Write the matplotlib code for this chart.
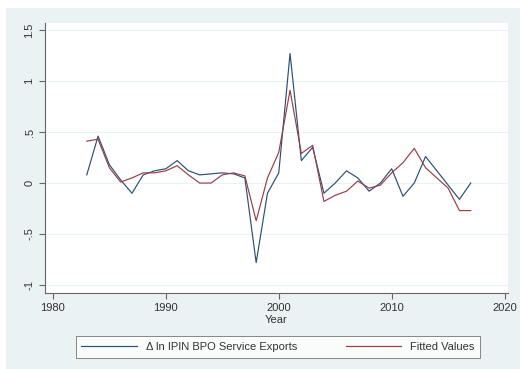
import matplotlib.pyplot as plt
from matplotlib.patches import Rectangle
from matplotlib.lines import Line2D

plt.rcParams['font.family'] = ['Liberation Sans', 'DejaVu Sans']

years = list(range(1983, 2018))
actual = [0.08, 0.46, 0.18, 0.03, -0.10, 0.08, 0.12, 0.14, 0.22, 0.12,
          0.08, 0.09, 0.10, 0.09, 0.05, -0.78, -0.10, 0.10, 1.27, 0.22,
          0.35, -0.10, 0.00, 0.12, 0.05, -0.08, 0.00, 0.14, -0.13, 0.00,
          0.26, 0.12, -0.02, -0.16, 0.00]
fitted = [0.41, 0.43, 0.15, 0.01, 0.05, 0.10, 0.10, 0.12, 0.17, 0.08,
          0.00, 0.00, 0.08, 0.10, 0.07, -0.37, 0.05, 0.30, 0.91, 0.29,
          0.37, -0.18, -0.12, -0.08, 0.02, -0.05, -0.02, 0.10, 0.20, 0.34,
          0.15, 0.05, -0.05, -0.27, -0.27]

ytick_vals = [-1, -0.5, 0, 0.5, 1, 1.5]
ytick_labels = ["-1", "-.5", "0", ".5", "1", "1.5"]
xtick_vals = [1980, 1990, 2000, 2010, 2020]

bg = "#eaf2f3"
navy = "#2a4f76"
maroon = "#9a3d44"
txt = "#333333"

fig = plt.figure(figsize=(5.2, 3.69), dpi=100)
fig.patch.set_facecolor("white")
# stata outer graph region
fig.patches.append(Rectangle((6 / 520, 0), 1 - 6 / 520, 1 - 8 / 369,
                             transform=fig.transFigure, facecolor=bg,
                             edgecolor="none", zorder=-10))

ax = fig.add_axes([45 / 520, 1 - 293 / 369, 463 / 520, 270 / 369])
ax.set_facecolor("white")

ax.plot(years, actual, color=navy, lw=0.85)
ax.plot(years, fitted, color=maroon, lw=0.85)

ax.set_xlim(1979.3, 2020.3)
ax.set_ylim(-1.078, 1.569)

ax.set_yticks(ytick_vals)
ax.set_yticklabels(ytick_labels, rotation=90, va="center")
ax.set_xticks(xtick_vals)
ax.grid(axis="y", color=bg, lw=0.8)
ax.grid(axis="x", visible=False)

for s in ["top", "right"]:
    ax.spines[s].set_visible(False)
for s in ["left", "bottom"]:
    ax.spines[s].set_color("#666666")
    ax.spines[s].set_linewidth(0.8)
ax.tick_params(colors="#666666", labelcolor=txt, labelsize=8, length=4, width=0.8)

ax.set_xlabel("Year", fontsize=8, color=txt, labelpad=1)

handles = [Line2D([], [], color=navy, lw=0.85), Line2D([], [], color=maroon, lw=0.85)]
leg = fig.legend(handles, ["\u0394 ln IPIN BPO Service Exports", "Fitted Values"],
                 loc="center", bbox_to_anchor=(278 / 520, 1 - 347 / 369), ncol=2,
                 fontsize=8, frameon=True, fancybox=False, handlelength=5,
                 columnspacing=4.4, borderpad=0.5)
leg.get_frame().set_edgecolor("#555555")
leg.get_frame().set_linewidth(0.6)
leg.get_frame().set_facecolor("white")
for t in leg.get_texts():
    t.set_color(txt)

fig.savefig("out.png", dpi=100, facecolor=fig.get_facecolor())
